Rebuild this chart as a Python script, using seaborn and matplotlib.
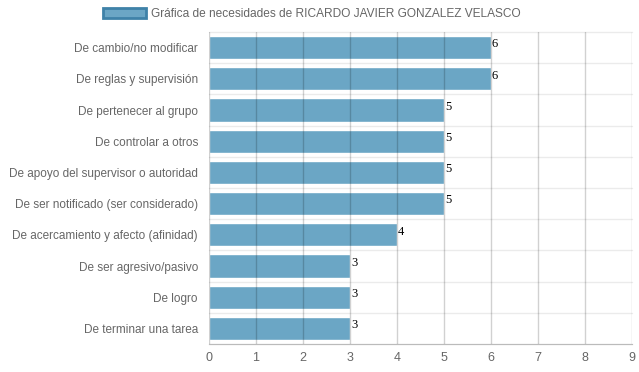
import matplotlib
matplotlib.use("Agg")
import matplotlib.pyplot as plt
import seaborn as sns
import pandas as pd
from matplotlib.patches import Patch

categories = [
    "De cambio/no modificar",
    "De reglas y supervisión",
    "De pertenecer al grupo",
    "De controlar a otros",
    "De apoyo del supervisor o autoridad",
    "De ser notificado (ser considerado)",
    "De acercamiento y afecto (afinidad)",
    "De ser agresivo/pasivo",
    "De logro",
    "De terminar una tarea",
]
values = [6, 6, 5, 5, 5, 5, 4, 3, 3, 3]
x_ticks = list(range(0, 10))
legend_label = "Gráfica de necesidades de RICARDO JAVIER GONZALEZ VELASCO"

df = pd.DataFrame({"necesidad": categories, "valor": values})

sns.set_style("white")
plt.rcParams["font.family"] = ["Liberation Sans", "DejaVu Sans"]

fig = plt.figure(figsize=(6.39, 3.72), dpi=100)
ax = fig.add_axes([209 / 639, 1 - 344 / 372, (632 - 209) / 639, (344 - 32) / 372])

bar_color = "#6ba6c5"
sns.barplot(data=df, x="valor", y="necesidad", orient="h", color=bar_color,
            saturation=1, width=0.74, ax=ax, zorder=2)

ax.set_xlim(0, 9)
ax.set_ylim(len(categories) - 0.5, -0.5)
ax.set_xticks(x_ticks)
ax.set_xlabel("")
ax.set_ylabel("")

# horizontal separators between categories
for i in range(len(categories) + 1):
    ax.axhline(i - 0.5, color="#ebebeb", lw=1, zorder=1, clip_on=False)
# vertical grid lines drawn over the bars
for t in x_ticks:
    ax.axvline(t, color="#000000", alpha=0.18, lw=1, zorder=3)

for s in ["top", "right", "left"]:
    ax.spines[s].set_visible(False)
ax.spines["bottom"].set_color("#bbbbbb")
ax.tick_params(axis="both", length=0, labelcolor="#666666")
ax.tick_params(axis="y", pad=8, labelsize=8.5)
ax.tick_params(axis="x", pad=6, labelsize=9)

for i, v in enumerate(values):
    ax.text(v + 0.02, i - 0.1, str(v), ha="left", va="center", fontsize=9,
            family=["Liberation Serif", "DejaVu Serif"], color="black", zorder=4)

handle = Patch(facecolor=bar_color, edgecolor="#3f82a8", linewidth=2)
fig.legend(handles=[handle], labels=[legend_label], loc="center left",
           bbox_to_anchor=(103 / 639, 1 - 14 / 372), frameon=False,
           handlelength=3.6, handleheight=0.95, handletextpad=0.45,
           prop={"size": 8.6}, labelcolor="#666666", borderaxespad=0, borderpad=0)

fig.savefig("out.png", dpi=100)
